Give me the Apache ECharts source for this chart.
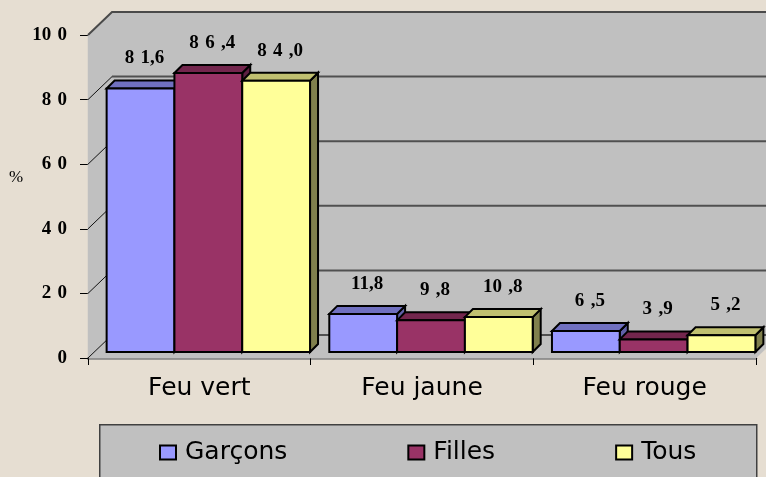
<!DOCTYPE html>
<html>
<head>
<meta charset="utf-8">
<script src="https://cdn.jsdelivr.net/npm/echarts@6/dist/echarts.min.js"></script>
<style>
html,body{margin:0;padding:0;background:#E6DED2;}
#chart{width:766px;height:477px;}
</style>
</head>
<body>
<div id="chart"></div>
<script>
// ---- data ----
const categories = ['Feu vert', 'Feu jaune', 'Feu rouge'];
const seriesNames = ['Garçons', 'Filles', 'Tous'];
const garcons = [81.6, 11.8, 6.5];
const filles = [86.4, 9.8, 3.9];
const tous = [84.0, 10.8, 5.2];
const garconsLabels = ['8\u20041,6', '11,8', '6\u2004,5'];
const fillesLabels = ['8\u20046\u2004,4', '9\u2004,8', '3\u2004,9'];
const tousLabels = ['8\u20044\u2004,0', '10\u2004,8', '5\u2004,2'];
const yTickLabels = ['0', '2\u20040', '4\u20040', '6\u20040', '8\u20040', '10\u20040'];
const gridTicks = [0, 20, 40, 60, 80];

// ---- styles ----
const WALL_DX = 24, WALL_DY = 23;
const BAR_DX = 8, BAR_DY = 8;
const BAR_LIFT = 6, GROUP_SHIFT = 9, BAR_FRAC = 0.3045, LABEL_GAP = 30;
const WALL_COLOR = '#C0C0C0';
const faceColors = [
  {front: '#9999FF', top: '#7070C0', side: '#6060A8'},
  {front: '#993366', top: '#73264D', side: '#5C1F40'},
  {front: '#FFFF99', top: '#C0C070', side: '#80804D'}
];
const seriesValues = [garcons, filles, tous];
const seriesLabels = [garconsLabels, fillesLabels, tousLabels];

const chart = echarts.init(document.getElementById('chart'), null, {renderer: 'canvas'});

function renderWalls(params, api) {
  const cs = params.coordSys;
  const yb = api.coord([0, 0])[1], yt = api.coord([0, 100])[1];
  const L = cs.x, R = cs.x + cs.width, farR = R + WALL_DX + 60;
  const st = {fill: WALL_COLOR, stroke: WALL_COLOR, lineWidth: 0.5};
  return {
    type: 'group',
    children: [
      {type: 'polygon', shape: {points: [[L + WALL_DX, yt - WALL_DY], [farR, yt - WALL_DY], [farR, yb - WALL_DY], [L + WALL_DX, yb - WALL_DY]]}, style: st},
      {type: 'polygon', shape: {points: [[L, yt], [L + WALL_DX, yt - WALL_DY], [L + WALL_DX, yb - WALL_DY], [L, yb]]}, style: st},
      {type: 'polygon', shape: {points: [[L, yb], [L + WALL_DX, yb - WALL_DY], [R + WALL_DX, yb - WALL_DY], [R, yb]]}, style: st},
      {type: 'polyline', shape: {points: [[L, yt], [L + WALL_DX, yt - WALL_DY], [farR, yt - WALL_DY]]}, style: {fill: null, stroke: '#4A4A4A', lineWidth: 2}}
    ]
  };
}

function renderGridLines(params, api) {
  const cs = params.coordSys;
  const y = api.coord([0, api.value(1)])[1];
  const L = cs.x, R = cs.x + cs.width, farR = R + WALL_DX + 60;
  return {
    type: 'group',
    children: [
      {type: 'line', shape: {x1: L, y1: y, x2: L + WALL_DX, y2: y - WALL_DY}, style: {stroke: '#111', lineWidth: 1}},
      {type: 'line', shape: {x1: L + WALL_DX, y1: y - WALL_DY, x2: farR, y2: y - WALL_DY}, style: {stroke: '#505050', lineWidth: 2}}
    ]
  };
}

function makeBar(s) {
  return function (params, api) {
    const cat = api.value(0), v = api.value(1);
    const c = api.coord([cat, v]);
    const c0 = api.coord([cat, 0]);
    const W = api.size([1, 0])[0];
    const b = W * BAR_FRAC;
    const x = c[0] + GROUP_SHIFT + (s - 1.5) * b;
    const yT = c[1] - BAR_LIFT, yB = c0[1] - BAR_LIFT;
    const col = faceColors[s];
    const line = {stroke: '#000', lineWidth: 2, lineJoin: 'miter'};
    return {
      type: 'group',
      children: [
        {type: 'polygon', shape: {points: [[x + b, yT], [x + b + BAR_DX, yT - BAR_DY], [x + b + BAR_DX, yB - BAR_DY], [x + b, yB]]}, style: Object.assign({fill: col.side}, line)},
        {type: 'polygon', shape: {points: [[x, yT], [x + BAR_DX, yT - BAR_DY], [x + b + BAR_DX, yT - BAR_DY], [x + b, yT]]}, style: Object.assign({fill: col.top}, line)},
        {type: 'rect', shape: {x: x, y: yT, width: b, height: yB - yT}, style: Object.assign({fill: col.front}, line)},
        {type: 'text', style: {text: seriesLabels[s][params.dataIndex], x: x + b / 2 + BAR_DX / 2, y: yT - LABEL_GAP, align: 'center', verticalAlign: 'middle', font: 'bold 19px "Liberation Serif"', fill: '#000'}}
      ]
    };
  };
}

const series = [
  {type: 'custom', name: 'walls', renderItem: renderWalls, data: [[0, 0]], clip: false, silent: true, z: 1},
  {type: 'custom', name: 'gridlines', renderItem: renderGridLines, data: gridTicks.map(v => [0, v]), clip: false, silent: true, z: 2}
];
seriesNames.forEach((n, s) => {
  series.push({
    type: 'custom', name: n, renderItem: makeBar(s), clip: false, z: 3,
    itemStyle: {color: faceColors[s].front},
    data: seriesValues[s].map((v, i) => [i, v])
  });
});

chart.setOption({
  animation: false,
  backgroundColor: '#E6DED2',
  grid: {left: 88, right: 10, top: 35, bottom: 119, containLabel: false},
  xAxis: {
    type: 'category', data: categories, boundaryGap: true,
    axisLine: {show: true, lineStyle: {color: '#808080', width: 2.5}},
    axisTick: {show: true, length: 7, lineStyle: {color: '#000', width: 1}},
    axisLabel: {fontFamily: 'DejaVu Sans', fontSize: 25, color: '#000', margin: 18},
    splitLine: {show: false}
  },
  yAxis: {
    type: 'value', min: 0, max: 100, interval: 20,
    axisLine: {show: true, lineStyle: {color: '#000', width: 1}},
    axisTick: {show: true, length: 8, inside: false, lineStyle: {color: '#000'}},
    axisLabel: {
      formatter: v => yTickLabels[Math.round(v / 20)],
      fontFamily: 'Liberation Serif', fontWeight: 'bold', fontSize: 19, color: '#000', margin: 21
    },
    splitLine: {show: false}
  },
  legend: {
    data: seriesNames, left: 159, top: 440, padding: 0, itemGap: 120,
    itemWidth: 16, itemHeight: 14, icon: 'rect',
    itemStyle: {borderColor: '#000', borderWidth: 2},
    textStyle: {fontFamily: 'DejaVu Sans', fontSize: 25, color: '#000', padding: [0, 0, 0, 4]}
  },
  graphic: [
    {type: 'rect', left: 99, top: 424, z: -1, shape: {width: 657, height: 80}, style: {fill: '#C0C0C0', stroke: '#404040', lineWidth: 1.5}},
    {type: 'text', left: 9, top: 169, style: {text: '%', font: '17px "Liberation Serif"', fill: '#000'}}
  ],
  series: series
});
</script>
</body>
</html>
